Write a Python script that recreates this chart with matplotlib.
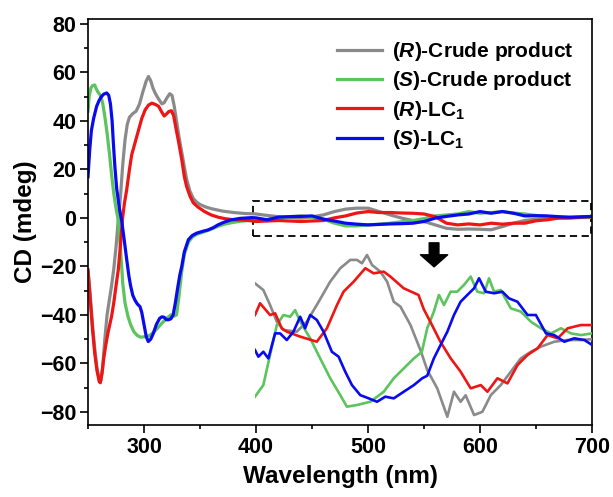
import numpy as np
import matplotlib
matplotlib.use("Agg")
import matplotlib.pyplot as plt
from matplotlib.patches import Rectangle
from matplotlib.ticker import MultipleLocator

plt.rcParams['font.family'] = 'Liberation Sans'
plt.rcParams['font.weight'] = 'bold'
plt.rcParams['axes.labelweight'] = 'bold'
plt.rcParams['mathtext.fontset'] = 'custom'
plt.rcParams['mathtext.rm'] = 'Liberation Sans:bold'
plt.rcParams['mathtext.it'] = 'Liberation Sans:italic:bold'
plt.rcParams['mathtext.bf'] = 'Liberation Sans:bold'

labels = [r'($\mathit{R}$)-Crude product', r'($\mathit{S}$)-Crude product',
          r'($\mathit{R}$)-LC$_{\mathrm{1}}$', r'($\mathit{S}$)-LC$_{\mathrm{1}}$']
colors = ['#8a8a8a', '#5cc45c', '#ee1515', '#0a0aee']

# UV part of the spectra (250-400 nm)
wl_r_crude = [250, 252, 254, 256, 258, 260, 261.5, 263, 265, 267, 269, 271, 273, 275, 277, 279,
              281, 283, 285, 287, 290, 293, 296, 299, 302, 304, 306, 308, 310, 313, 316, 318,
              320.5, 323, 325, 327, 329, 331, 333.7, 336, 338, 341, 344, 347, 350, 355, 360,
              370, 380, 390]
cd_r_crude = [-22, -32, -44, -54, -62, -66.5, -67, -62, -50, -40, -34, -28, -21, -12, -1, 9,
              22, 32, 38.5, 41.5, 43, 44, 47, 52, 56.5, 58.3, 56.5, 53.5, 51.4, 49, 47, 47.5,
              49.5, 51.2, 50.5, 46, 40, 34, 27, 21, 16, 11, 8, 6.5, 5.5, 4.5, 3.8,
              2.8, 2.2, 1.8]

wl_s_crude = [250, 251, 252.5, 254, 256, 257.5, 259, 261, 263, 265, 267, 269, 271, 273, 275,
              277, 279, 281, 283, 285.7, 288, 291, 294, 297, 301, 305, 309, 313, 316, 320, 324,
              327, 329, 331, 333.7, 336, 339.6, 343, 347, 352, 357, 362, 366, 372, 378, 386, 396]
cd_s_crude = [44, 50, 53.5, 54.5, 54.8, 53, 51.8, 50.5, 47.5, 41.8, 35, 27, 18, 10, 4,
              -1, -13, -27, -35, -40.7, -44, -47, -48.5, -49.2, -49, -48.5, -47, -45, -43.4, -41.5, -40,
              -40.5, -40, -33, -22, -15, -10, -8, -6.8, -6, -5.2, -4.3, -3.5, -2.6, -2, -1.4, -1]

wl_r_lc = [250, 252, 254, 256, 258, 260, 261, 262.5, 264, 266, 268, 271, 273, 275, 277, 279,
           280.6, 282.5, 284.5, 287, 289, 292, 295, 298, 301, 304, 307, 310, 313, 316, 318,
           320, 322, 324.5, 326.5, 328.5, 331, 333.7, 336, 338, 341, 344, 348, 354, 360, 366,
           372, 380, 392]
cd_r_lc = [-21.5, -34, -46, -56, -63, -67.5, -68, -64, -58, -52, -47, -40.7, -35, -28, -21.5, -11,
           -1, 6, 11.5, 20, 26, 31, 36, 41, 44.5, 46.5, 47.3, 46.8, 46, 43.5, 42,
           42.8, 43.8, 44.2, 42, 37, 31, 24, 17, 13, 9, 6.2, 4.5, 2.6, 1.2, 0.3,
           -0.3, -0.8, -1]

wl_s_lc = [250, 251.5, 253, 255, 257.7, 260, 262, 264, 266.7, 268.5, 270, 271.5, 272.6, 274,
           275.6, 278, 280, 282, 284.5, 286.5, 288, 290, 292, 294, 296.4, 298, 300, 302, 303.8,
           306, 308, 311, 314, 316, 318, 320, 322, 324, 326, 328, 330, 332, 333.7, 336, 339.6,
           343, 347, 352, 357, 362, 366, 372, 378, 386, 396]
cd_s_lc = [17, 28, 36, 41, 46, 48.5, 50, 51, 51.5, 50.5, 47, 40, 31, 21,
           12, 4, -1, -8, -17, -24, -28, -32, -34, -35.5, -36.6, -39, -44, -49, -51,
           -50, -48, -44, -41.4, -40.8, -41, -42, -42, -41.6, -40, -35, -29, -23.5, -20, -14, -9,
           -7.3, -6.3, -5.6, -5, -4, -2.9, -1.7, -0.8, -0.2, 0.1]

# visible part (400-700 nm) as seen in the main axes
wl_vis = list(range(400, 701, 10))
vis_r_crude = [1.6, 1.0, 0.5, 0.2, -0.1, 0.4, 1.2, 2.6, 3.6, 4.0, 4.0, 2.6, 1.2, -0.1, -1.1, -1.5,
               -2.9, -4.3, -4.7, -4.6, -4.7, -4.9, -3.6, -2.2, -1.1, -0.5, -0.3, -0.1, 0.1, 0.3, 0.3]
vis_s_crude = [-1.1, -0.6, -0.1, 0.5, 0.8, 0.2, -0.5, -2.2, -3.3, -3.3, -2.9, -2.6, -2.2, -1.6, -1.1, -0.3,
               0.8, 1.2, 1.6, 2.6, 1.9, 2.2, 2.6, 2.0, 1.6, 1.0, 0.5, 0.2, -0.1, 0.1, 0.1]
vis_r_lc = [-1.5, -1.3, -1.1, -1.3, -1.5, -1.3, -1.1, 0.0, 0.8, 2.0, 2.6, 2.2, 2.2, 2.0, 1.9, 1.6,
            0.5, -2.2, -2.9, -2.5, -2.9, -2.2, -2.6, -2.2, -2.2, -1.2, -0.8, -0.1, 0.0, 0.3, 0.5]
vis_s_lc = [0.0, -0.8, 0.3, 0.5, 0.6, 0.8, -0.5, -1.3, -2.2, -2.6, -2.9, -2.7, -2.5, -2.4, -2.2, -1.5,
            -0.1, 0.6, 1.2, 1.6, 2.6, 1.9, 2.6, 1.9, 0.8, 0.9, 0.8, 0.5, 0.3, 0.4, 0.6]

# magnified view of 400-700 nm (inset)
ins_wl_r_crude = [400, 407.4, 413.4, 419.4, 425.3, 437.2, 446.1, 455, 466.9, 475.9, 484.8, 490.8,
                  495.2, 499.7, 504.2, 511.6, 517.6, 523.5, 529.5, 538.4, 547.3, 553.3, 562.2,
                  571.2, 577.1, 583, 587.5, 595, 602.4, 609.9, 618.75, 627.7, 636.6, 645.5,
                  654.5, 666.4, 678.3, 690.2, 700]
ins_r_crude = [2.83, 2.44, 1.56, 0.58, 0.09, -0.01, 0.58, 1.56, 2.93, 3.72, 4.21, 4.21,
               4.01, 4.5, 3.91, 3.52, 2.93, 1.75, 1.46, 0.38, -1.1, -2.26, -3.34,
               -5.01, -3.54, -4.13, -3.75, -4.91, -4.72, -3.74, -3.15, -2.36, -1.58, -1.19,
               -0.89, -0.6, -0.5, -0.5, -0.45]

ins_wl_s_crude = [400, 407.4, 413.4, 419.4, 425.3, 431.3, 435.7, 440.2, 449.1, 458, 467, 475.9,
                  481.8, 490.8, 502.7, 514.6, 523.5, 532.4, 541.4, 548.5, 553.3, 559.2, 563.7,
                  568.2, 574.1, 580, 586, 592, 597.9, 603.9, 608.3, 612.8, 618.75, 627.7, 636.6,
                  645.5, 654.5, 663.4, 672.3, 681.3, 690.2, 700]
ins_s_crude = [-3.83, -3.15, -1.38, 0.38, 0.97, 0.87, 1.26, 0.58, -0.4, -1.58, -2.75, -3.74,
               -4.42, -4.32, -4.13, -3.54, -2.75, -2.17, -1.58, -1.2, 0.19, 1.17, 2.15,
               1.56, 2.34, 2.34, 2.74, 3.23, 2.34, 2.25, 3.13, 2.34, 2.44, 1.36, 1.17,
               0.58, 0.19, -0.11, 0.19, -0.11, -0.21, -0.11]

ins_wl_r_lc = [400, 404.5, 413.4, 417.9, 423.8, 428.3, 440.2, 455, 464, 473, 478.8, 487.8, 498.2,
               505.6, 514.6, 520.5, 532.4, 545.5, 550.3, 556, 565, 574, 583, 592, 601, 606.9,
               615.8, 624.7, 633.7, 642.6, 651.5, 660.4, 669.4, 678.3, 690, 700]
ins_r_lc = [0.97, 1.66, 0.97, 1.07, 0.19, -0.01, -0.3, -0.6, 0.19, 1.56, 2.34, 2.93, 3.72,
            3.42, 3.52, 3.23, 2.54, 2.15, 1.3, 0.58, -0.6, -1.56, -2.36, -3.34, -3.15, -3.54,
            -2.75, -3.05, -1.97, -1.38, -0.99, -0.21, -0.40, 0.19, 0.38, 0.38]

ins_wl_s_lc = [400, 403, 407.4, 411.9, 417.9, 422.3, 428.3, 434.2, 440.2, 444.6, 449.1, 455, 461,
               468.4, 474.4, 480.3, 486.3, 493.7, 501.2, 508.6, 516, 523.5, 532.4, 541.4, 548.8,
               553.3, 559.2, 565.2, 571.2, 577.1, 583, 589, 595, 599.4, 605.4, 612.8, 620.2,
               626.1, 633.6, 642.6, 650, 659, 666.4, 675.3, 684.2, 693.2, 700]
ins_s_lc = [-1.09, -1.48, -1.19, -1.58, -0.11, -0.11, -0.5, -0.01, 0.87, 0.19, 0.97, 0.68, -0.01,
            -1.19, -1.48, -2.36, -3.15, -3.74, -3.93, -4.13, -3.83, -3.93, -3.54, -3.15, -2.75,
            -2.6, -1.58, -0.79, -0.01, 0.97, 1.75, 2.15, 2.54, 3.13, 2.34, 2.25, 2.34,
            1.95, 1.75, 0.97, 0.97, -0.11, -0.21, -0.6, -0.4, -0.5, -0.79]

uv_x = [wl_r_crude, wl_s_crude, wl_r_lc, wl_s_lc]
uv_y = [cd_r_crude, cd_s_crude, cd_r_lc, cd_s_lc]
vis_y = [vis_r_crude, vis_s_crude, vis_r_lc, vis_s_lc]
ins_x = [ins_wl_r_crude, ins_wl_s_crude, ins_wl_r_lc, ins_wl_s_lc]
ins_y = [ins_r_crude, ins_s_crude, ins_r_lc, ins_s_lc]

fig = plt.figure(figsize=(6.13, 4.97), dpi=100)
ax = fig.add_axes([0.1436, 0.1449, 0.8221, 0.8169])

for xs, ys, vs, c, lab in zip(uv_x, uv_y, vis_y, colors, labels):
    ax.plot(np.concatenate([xs, wl_vis]), np.concatenate([ys, vs]), color=c, lw=2.3, label=lab)

ax.set_xlim(250, 700)
ax.set_ylim(-85.4, 82)
ax.xaxis.set_major_locator(MultipleLocator(100))
ax.xaxis.set_minor_locator(MultipleLocator(50))
ax.yaxis.set_major_locator(MultipleLocator(20))
ax.yaxis.set_minor_locator(MultipleLocator(10))
ax.tick_params(which='major', direction='out', length=5.5, width=1.2, labelsize=15.5, pad=3)
ax.tick_params(which='minor', direction='out', length=3, width=1.2)
for lbl in ax.get_xticklabels() + ax.get_yticklabels():
    lbl.set_fontweight('bold')
for s in ax.spines.values():
    s.set_linewidth(1.2)
ax.set_xlabel('Wavelength (nm)', fontsize=17.5, fontweight='bold', labelpad=5)
ax.set_ylabel('CD (mdeg)', fontsize=17.5, fontweight='bold', labelpad=2)

ax.add_patch(Rectangle((397, -7.4), 302, 14.4, fill=False, ec='k', lw=1.3, ls=(0, (4, 2.5))))
ax.annotate('', xy=(559, -20.2), xytext=(559, -10.3),
            arrowprops=dict(arrowstyle='simple,head_length=0.62,head_width=1.4,tail_width=0.5',
                            color='k', shrinkA=0, shrinkB=0, mutation_scale=14))

ax.legend(loc='upper left', bbox_to_anchor=(0.494, 0.948), frameon=False, fontsize=15,
          handlelength=2.15, handletextpad=0.48, labelspacing=0.3, borderpad=0, borderaxespad=0)

axins = fig.add_axes([0.416, 0.1509, 0.5498, 0.346])
for xs, ys, c in zip(ins_x, ins_y, colors):
    axins.plot(xs, ys, color=c, lw=1.9)
axins.set_xlim(400, 700)
axins.set_ylim(-5.32, 4.79)
axins.axis('off')
axins.patch.set_alpha(0)

fig.savefig('out.png', dpi=100)
